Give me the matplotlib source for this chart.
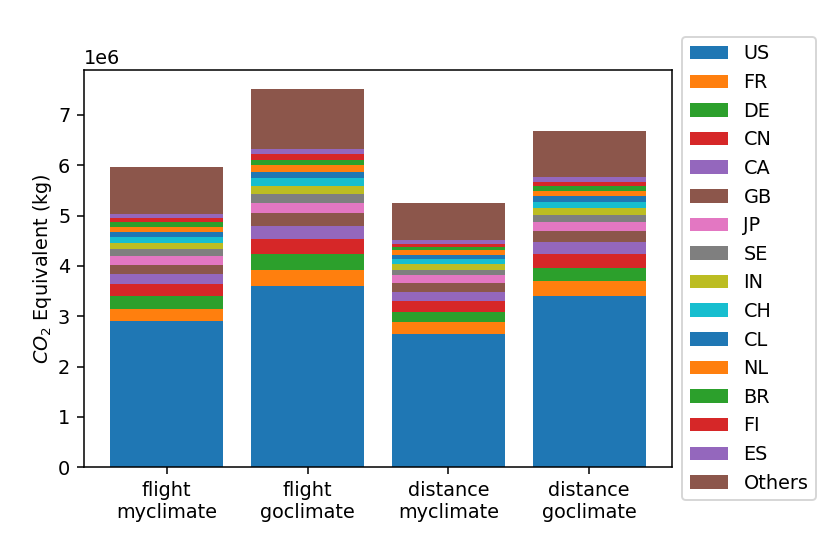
import numpy as np
import matplotlib
matplotlib.use("Agg")
import matplotlib.pyplot as plt

# stacked emissions per country, in millions of kg
methods = ["flight\nmyclimate", "flight\ngoclimate", "distance\nmyclimate", "distance\ngoclimate"]
countries = ["US", "FR", "DE", "CN", "CA", "GB", "JP", "SE", "IN", "CH",
             "CL", "NL", "BR", "FI", "ES", "Others"]

flight_myclimate = [2.897, 0.245, 0.252, 0.245, 0.193, 0.191, 0.173, 0.139,
                    0.125, 0.120, 0.099, 0.093, 0.093, 0.086, 0.080, 0.940]
flight_goclimate = [3.605, 0.318, 0.318, 0.299, 0.252, 0.253, 0.199, 0.184,
                    0.166, 0.147, 0.131, 0.127, 0.112, 0.119, 0.099, 1.193]
distance_myclimate = [2.645, 0.232, 0.211, 0.207, 0.185, 0.185, 0.153, 0.099,
                      0.119, 0.099, 0.080, 0.093, 0.066, 0.060, 0.080, 0.730]
distance_goclimate = [3.406, 0.293, 0.264, 0.266, 0.239, 0.231, 0.179, 0.133,
                      0.139, 0.125, 0.108, 0.111, 0.100, 0.079, 0.088, 0.926]

data = np.array([flight_myclimate, flight_goclimate,
                 distance_myclimate, distance_goclimate]).T * 1e6

dpi = 138.33
fig = plt.figure(figsize=(830 / dpi, 535 / dpi), dpi=dpi)
ax = fig.add_axes([0.1008, 0.1265, 0.7092, 0.7432])

x = np.arange(len(methods))
bottom = np.zeros(len(methods))
for i, c in enumerate(countries):
    ax.bar(x, data[i], bottom=bottom, label=c)
    bottom += data[i]

ax.set_xticks(x)
ax.set_xticklabels(methods)
ax.set_ylabel("$CO_2$ Equivalent (kg)", labelpad=2)
ax.legend(loc="center left", bbox_to_anchor=(1, 0.5))

fig.savefig("out.png", dpi=dpi)
